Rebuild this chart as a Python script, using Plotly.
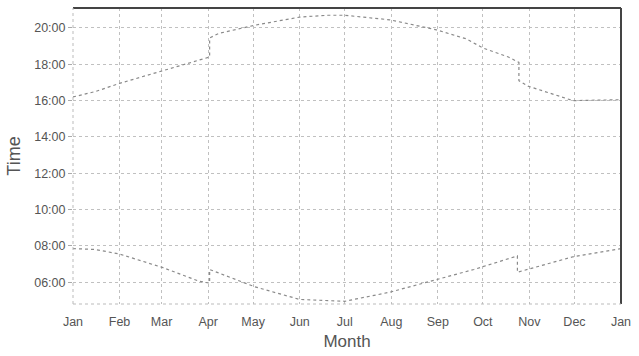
import plotly.graph_objects as go

month_labels = ["Jan", "Feb", "Mar", "Apr", "May", "Jun", "Jul", "Aug", "Sep", "Oct", "Nov", "Dec", "Jan"]
month_days = [0, 31, 59, 90, 120, 151, 181, 212, 243, 273, 304, 334, 365]

time_ticks = [6, 8, 10, 12, 14, 16, 18, 20]
time_labels = ["06:00", "08:00", "10:00", "12:00", "14:00", "16:00", "18:00", "20:00"]

sunset_day = [0, 15, 31, 60, 84, 91, 91, 97, 121, 151, 170, 181, 211, 242, 262, 273, 290, 297, 297, 303, 333, 365]
sunset_hr = [16.2, 16.5, 16.95, 17.65, 18.2, 18.4, 19.45, 19.7, 20.15, 20.6, 20.7, 20.7, 20.45, 19.9, 19.4, 18.9, 18.4, 18.1, 17.1, 16.8, 16.0, 16.05]

sunrise_day = [0, 15, 31, 60, 84, 91, 91, 121, 151, 181, 211, 242, 267, 296, 296, 333, 365]
sunrise_hr = [7.85, 7.8, 7.55, 6.8, 6.05, 5.95, 6.7, 5.75, 5.05, 4.95, 5.45, 6.15, 6.7, 7.45, 6.55, 7.4, 7.85]

fig = go.Figure()
line = dict(color="#8a8a8a", width=1.2, dash="dot")
fig.add_trace(go.Scatter(x=sunset_day, y=sunset_hr, mode="lines", line=line, name="Sunset"))
fig.add_trace(go.Scatter(x=sunrise_day, y=sunrise_hr, mode="lines", line=line, name="Sunrise"))

fig.update_layout(
    width=639, height=356,
    margin=dict(l=73, r=8, t=8, b=51, pad=0),
    paper_bgcolor="white", plot_bgcolor="white",
    showlegend=False,
    font=dict(family="Liberation Sans, Arial, sans-serif", color="#555555"),
    xaxis=dict(
        range=[0, 365], tickmode="array", tickvals=month_days, ticktext=month_labels,
        showgrid=True, gridcolor="#c0c0c0", griddash="dot", gridwidth=1,
        zeroline=False, showline=False, ticks="outside", ticklen=6, tickcolor="rgba(0,0,0,0)",
        tickfont=dict(size=12.5, color="#555"), ticklabeloverflow="allow",
        title=dict(text="Month", font=dict(size=17, color="#555"), standoff=7),
    ),
    yaxis=dict(
        range=[4.8, 21.1], tickmode="array", tickvals=time_ticks, ticktext=time_labels,
        showgrid=True, gridcolor="#c0c0c0", griddash="dot", gridwidth=1,
        zeroline=False, showline=False, ticks="outside", ticklen=4, tickcolor="#aaa",
        tickfont=dict(size=12.5, color="#555"),
        title=dict(text="Time", font=dict(size=18, color="#555"), standoff=8),
    ),
    shapes=[
        dict(type="line", xref="paper", yref="paper", x0=0, x1=1, y0=1, y1=1, line=dict(color="#444", width=2)),
        dict(type="line", xref="paper", yref="paper", x0=1, x1=1, y0=0, y1=1, line=dict(color="#444", width=2)),
        dict(type="line", xref="paper", yref="paper", x0=0, x1=0, y0=0, y1=1, line=dict(color="#bbb", width=1, dash="dot")),
        dict(type="line", xref="paper", yref="paper", x0=0, x1=1, y0=0, y1=0, line=dict(color="#bbb", width=1, dash="dot")),
    ],
)

fig.write_html(
    "out.html",
    config={"displayModeBar": False, "staticPlot": True},
    post_script="document.body.style.margin='0';document.body.style.overflow='hidden';",
)
